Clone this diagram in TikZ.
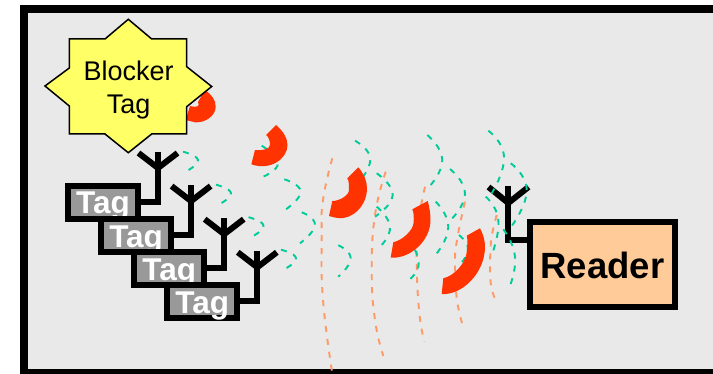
\documentclass[tikz,border=0pt]{standalone}
\usepackage{fontspec}
\setmainfont{Liberation Sans}
\definecolor{panel}{HTML}{E9E9E9}
\definecolor{tagfill}{HTML}{999999}
\definecolor{readerfill}{HTML}{FFCC99}
\definecolor{starfill}{HTML}{FFFF66}
\definecolor{waveg}{HTML}{00CC99}
\definecolor{waveo}{HTML}{FF9966}
\definecolor{pulse}{HTML}{FF3300}
\tikzset{
  tagbox/.style={draw=black,line width=6pt,fill=tagfill,minimum width=70pt,minimum height=33pt,inner sep=0pt,outer sep=0pt},
  tagtext/.style={anchor=base,text=white,inner sep=0pt,font=\fontsize{31.5}{31.5}\selectfont\bfseries},
  readerbox/.style={draw=black,line width=6pt,fill=readerfill,minimum width=145.6pt,minimum height=84.7pt,inner sep=0pt,outer sep=0pt},
  readertext/.style={anchor=base,text=black,inner sep=0pt,font=\fontsize{36.5}{36.5}\selectfont\bfseries},
  startext/.style={anchor=base,text=black,inner sep=0pt,font=\fontsize{27}{27}\selectfont},
  antenna/.style={draw=black,line width=6pt,line join=miter,line cap=butt},
  waveG/.style={draw=waveg,line width=1.9pt,dash pattern=on 6pt off 7pt},
  waveO/.style={draw=waveo,line width=1.9pt,dash pattern=on 6pt off 7pt},
}
\newcommand{\wv}[4]{\draw[#1] plot[smooth,tension=0.9] coordinates {#2 #3 #4};}
\begin{document}
\begin{tikzpicture}[x=1pt,y=-1pt]
\useasboundingbox (0,0) rectangle (713,374);
\fill[white] (0,0) rectangle (713,374);
\draw[line width=8pt,draw=black,fill=panel] (24,9) rectangle (725,373);
% tags and their antennas
\foreach \i/\nm in {0/a,1/b,2/c,3/d}{
  \pgfmathsetmacro{\ox}{33.1*\i}
  \begin{scope}[shift={(\ox,\ox)}]
    \coordinate (stem\nm) at (158,152);
    \coordinate (join\nm) at (158,168);
    \coordinate (tipl\nm) at (138.5,153);
    \coordinate (tipr\nm) at (177.5,153);
    \node[tagbox] (tag\nm) at (102.7,202.2) {};
    \node[tagtext] (txt\nm) at (103,214) {Tag};
    \draw[antenna] (stem\nm) -- (join\nm);
    \draw[antenna] (tipl\nm) -- (join\nm) -- (tipr\nm);
    \draw[antenna] (join\nm) |- (tag\nm.east);
  \end{scope}
}
% reader
\node[readerbox] (reader) at (602.5,264.65) {};
\node[readertext] (readerlabel) at (602.5,279) {Reader};
\coordinate (rstem) at (508.3,185.7);
\coordinate (rjoin) at (508.3,203);
\coordinate (rtipl) at (488.5,187);
\coordinate (rtipr) at (528.5,187);
\draw[antenna] (rstem) -- (rjoin);
\draw[antenna] (rtipl) -- (rjoin) -- (rtipr);
\draw[antenna] (rjoin) |- (reader.west |- 0,240);
% orange waves
\draw[waveO] plot[smooth,tension=0.8] coordinates {(332.3,158.3) (323,200) (321.7,236.7) (323,300) (332.3,373.3)};
\draw[waveO] plot[smooth,tension=0.8] coordinates {(385.7,171.7) (375,215) (371.7,270) (375,320) (383.3,356)};
\draw[waveO] plot[smooth,tension=0.8] coordinates {(425,186.7) (418,225) (416.7,260) (419,310) (424.3,341.7)};
\draw[waveO] plot[smooth,tension=0.8] coordinates {(465,201.7) (457,240) (455,265) (457,300) (463.3,327.3)};
\draw[waveO] plot[smooth,tension=0.8] coordinates {(496.7,215) (491,240) (490,260) (491,285) (495.7,300)};
% green waves
\foreach \d in {0,33,65.5,98}{
  \begin{scope}[shift={(\d,\d)}]
    \wv{waveG}{(183,151.7)}{(198,160)}{(186.7,171)}
  \end{scope}
}
\wv{waveG}{(261.7,145.7)}{(278,163)}{(263,176.7)}
\wv{waveG}{(284.3,179.3)}{(300.7,191.7)}{(285,210)}
\wv{waveG}{(301.7,212.3)}{(315,225)}{(300,243.3)}
\wv{waveG}{(338.3,245.3)}{(350.7,258.3)}{(338.3,276.7)}
\wv{waveG}{(355,140.7)}{(370,156.7)}{(363,176.7)}
\wv{waveG}{(376.7,173.3)}{(392.7,195)}{(375,216.7)}
\wv{waveG}{(376.7,206.7)}{(390,226.7)}{(380,246.7)}
\wv{waveG}{(415,250)}{(418.3,266.7)}{(408.3,280.7)}
\wv{waveG}{(427.3,135)}{(442.3,160)}{(428.3,187.7)}
\wv{waveG}{(450,169)}{(465,193.3)}{(450.7,220)}
\wv{waveG}{(435.7,201.7)}{(448.3,226.7)}{(436,254.3)}
\wv{waveG}{(459,235)}{(468,248)}{(462,262)}
\wv{waveG}{(488.3,130.7)}{(504,156.7)}{(491.7,193.3)}
\wv{waveG}{(510.7,163.3)}{(526.7,190)}{(511.7,226)}
\wv{waveG}{(485.7,196.7)}{(498.3,220)}{(491.7,255)}
\wv{waveG}{(503.3,229.3)}{(515,256.7)}{(509,288.3)}
% red pulses
\fill[pulse] (205,90) .. controls (212,95) and (215.7,100) .. (215.7,106.7) .. controls (215.7,116) and (205,123) .. (195,122.3) -- (185.7,120) -- (190,106) .. controls (198,108) and (200,106) .. (198,102) -- cycle;
\fill[pulse] (276,125) .. controls (283,131) and (287.5,138) .. (287.5,145) .. controls (287.5,159) and (270,171) .. (251.3,164.3) -- (255,150) .. controls (262,151) and (270,149) .. (270,145) .. controls (270,141) and (269,137) .. (266,135) -- cycle;
\fill[pulse] (358.3,167.3) .. controls (364,174) and (367,181) .. (367,188.3) .. controls (367,206) and (352,220) .. (338,218) .. controls (335,218) and (332,216.7) .. (329,216) -- (332.3,201) .. controls (340,201) and (349,195) .. (349,190) .. controls (349,185) and (349,181) .. (347.3,178.3) -- cycle;
\fill[pulse] (427.7,201) .. controls (429.5,207) and (430.5,214) .. (430.5,220) .. controls (430.5,241) and (410,259) .. (390.7,257.7) -- (393.3,242.3) .. controls (403,240) and (413,230) .. (413.5,223.3) .. controls (414,218) and (414,213) .. (412.3,209.3) -- cycle;
\fill[pulse] (480,228.3) .. controls (483,234) and (485,240) .. (485,246.7) .. controls (485,273) and (462,295.5) .. (441.7,294) -- (443.3,278.3) .. controls (454,276) and (466.5,263) .. (467,250) .. controls (467.3,245) and (468,240) .. (466.7,235.7) -- cycle;
% blocker star
\node[inner sep=0pt,outer sep=0pt,minimum size=0pt] (starc) at (128.3,86) {};
\draw[line width=1.5pt,draw=black,fill=starfill,line join=miter] (128.3,19.3) -- (151.7,39) -- (186.7,39) -- (186.7,66.7) -- (211.7,86.5) -- (186.7,106.7) -- (186.7,134) -- (151.7,134) -- (128.3,152.7) -- (105,134) -- (69.3,134) -- (69.3,106) -- (45,86) -- (69.3,68) -- (69.3,39) -- (105,39) -- cycle;
\node[startext] (blk1) at (128.7,81) {Blocker};
\node[startext] (blk2) at (128.7,113.3) {Tag};
\end{tikzpicture}
\end{document}
